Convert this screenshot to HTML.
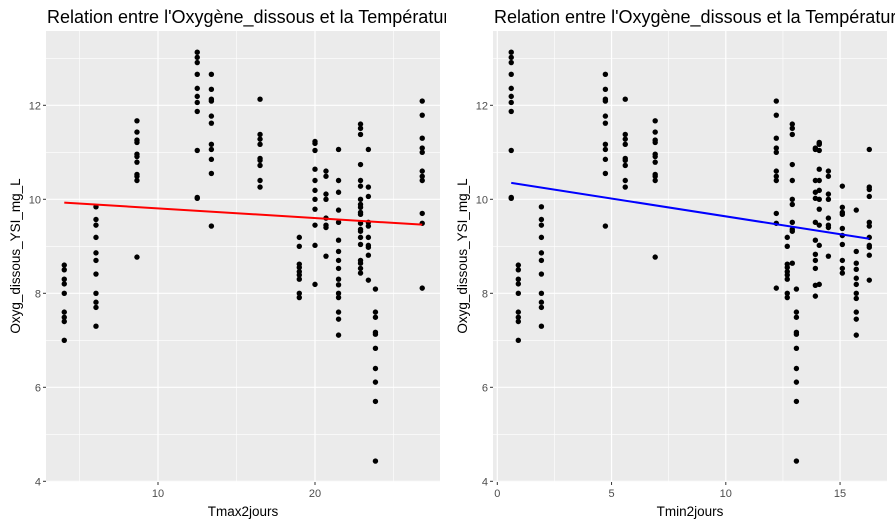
<!DOCTYPE html>
<html><head><meta charset="utf-8"><style>
body{margin:0;background:#fff;}
svg{display:block;font-family:"Liberation Sans",Arial,sans-serif;}
</style></head><body>
<svg id="chart" width="895" height="526" viewBox="0 0 895 526" xmlns="http://www.w3.org/2000/svg"></svg>
<script>
// Left panel data (Tmax2jours)
const leftX = [4.03,6.05,8.66,12.5,13.4,16.5,19.0,20.0,20.7,21.5,22.9,23.4,23.85,26.83];
const leftY = [
 [8.60,8.50,8.30,8.20,8.00,7.60,7.49,7.40,7.00],
 [9.84,9.57,9.45,9.19,8.86,8.70,8.41,8.0,7.81,7.70,7.30],
 [11.67,11.43,11.26,11.21,10.96,10.91,10.79,10.53,10.49,10.40,8.77],
 [13.13,13.02,12.91,12.66,12.36,12.19,12.06,11.87,11.04,10.04,10.02],
 [12.66,12.34,12.13,12.09,11.77,11.62,11.17,11.06,10.85,10.55,9.43],
 [12.13,11.38,11.28,11.17,10.87,10.83,10.72,10.40,10.26],
 [9.19,9.00,8.62,8.55,8.46,8.39,8.30,8.0,7.91],
 [11.23,11.19,11.04,10.64,10.40,10.19,10.0,9.79,9.45,9.02,8.19],
 [10.60,10.49,10.11,10.0,9.60,9.45,9.40,8.79],
 [11.06,10.40,10.15,9.77,9.51,9.13,8.89,8.70,8.53,8.30,8.18,8.0,7.91,7.60,7.45,7.11],
 [11.60,11.51,11.38,10.74,10.40,10.28,10.0,9.89,9.83,9.72,9.68,9.49,9.36,9.32,9.19,9.04,8.70,8.53,8.64,8.43],
 [11.06,10.26,10.06,9.51,9.43,9.19,9.02,8.98,8.81,8.28],
 [8.09,7.60,7.49,7.17,7.13,6.83,6.40,6.11,5.70,4.43],
 [12.09,11.79,11.30,11.09,11.0,10.60,10.49,10.40,9.70,9.49,8.11]
];
const leftLineX = [4.03,26.83];
const leftLineY = [9.93,9.46];
const leftXTicks = [10,20];
const leftXMinor = [5,15,25];

// Right panel data (Tmin2jours)
const rightX = [0.61,0.92,1.93,4.73,5.60,6.91,12.21,12.69,12.91,13.09,13.92,14.09,14.49,15.10,15.71,16.28];
const rightY = [
 [13.13,13.02,12.91,12.66,12.36,12.19,12.06,11.87,11.04,10.04,10.02],
 [8.60,8.50,8.30,8.20,8.00,7.60,7.49,7.40,7.00],
 [9.84,9.57,9.45,9.19,8.86,8.70,8.41,8.0,7.81,7.70,7.30],
 [12.66,12.34,12.13,12.09,11.77,11.62,11.17,11.06,10.85,10.55,9.43],
 [12.13,11.38,11.28,11.17,10.87,10.83,10.72,10.40,10.26],
 [11.67,11.43,11.26,11.21,10.96,10.91,10.79,10.53,10.49,10.40,8.77],
 [12.09,11.79,11.30,11.09,11.0,10.60,10.49,10.40,9.70,9.49,8.11],
 [9.19,9.00,8.62,8.55,8.46,8.39,8.30,8.0,7.91],
 [11.60,11.51,11.38,10.74,10.40,10.0,9.89,9.51,9.36,9.32,8.64],
 [8.09,7.60,7.49,7.17,7.13,6.83,6.40,6.11,5.70,4.43],
 [11.09,11.06,10.40,10.15,10.02,9.51,9.13,8.83,8.70,8.53,8.17,7.94],
 [11.21,11.19,11.17,11.04,10.64,10.40,10.19,10.0,9.79,9.45,9.02,8.19],
 [10.60,10.49,10.11,10.0,9.60,9.45,9.40,8.79],
 [10.28,9.83,9.72,9.68,9.38,9.23,9.04,8.70,8.53,8.43],
 [9.77,8.89,8.64,8.51,8.32,8.19,8.0,7.89,7.60,7.45,7.11],
 [11.06,10.26,10.21,10.06,9.51,9.43,9.19,9.02,8.98,8.81,8.28]
];
const rightLineX = [0.61,16.28];
const rightLineY = [10.35,9.16];
const rightXTicks = [0,5,10,15];
const rightXMinor = [2.5,7.5,12.5];

const yTicks = [4,6,8,10,12];
const yMinor = [5,7,9,11,13];

const NS = "http://www.w3.org/2000/svg";
const svg = document.getElementById('chart');
function mk(tag, attrs, parent){
  const e = document.createElementNS(NS, tag);
  for (const k in attrs) e.setAttribute(k, attrs[k]);
  (parent||svg).appendChild(e);
  return e;
}
const yScale = v => 105.3 + (12 - v) * 47;

function panel(o){
  const g = mk('g', {});
  
  
  const xs = v => o.x0px + (v - o.x0) * o.pxPer;
  const clipId = o.name + '-clip';
  const cp = mk('clipPath', {id: clipId}, g);
  mk('rect', {x: o.left, y: 31, width: o.right - o.left, height: 451}, cp);
  const bg = mk('rect', {x: o.left, y: 31, width: o.right - o.left, height: 451, fill: '#EBEBEB'}, g);
  
  
  yMinor.forEach(v => { mk('line', {x1:o.left, x2:o.right, y1:yScale(v), y2:yScale(v), stroke:'#fff', 'stroke-width':0.6, 'clip-path':'url(#'+clipId+')'}, g); });
  o.xMinor.forEach(v => { mk('line', {x1:xs(v), x2:xs(v), y1:31, y2:482, stroke:'#fff', 'stroke-width':0.6}, g); });
  yTicks.forEach(v => {
    mk('line', {x1:o.left, x2:o.right, y1:yScale(v), y2:yScale(v), stroke:'#fff', 'stroke-width':1.2}, g);
    mk('line', {x1:o.left-3, x2:o.left, y1:yScale(v), y2:yScale(v), stroke:'#333', 'stroke-width':1}, g);
    const t = mk('text', {x:o.left-5, y:yScale(v)+4, 'text-anchor':'end', 'font-size':11, fill:'#4D4D4D'}, g);
    
    
    t.textContent = v;
  });
  o.xTicks.forEach(v => {
    mk('line', {x1:xs(v), x2:xs(v), y1:31, y2:482, stroke:'#fff', 'stroke-width':1.2}, g);
    mk('line', {x1:xs(v), x2:xs(v), y1:482, y2:485, stroke:'#333', 'stroke-width':1}, g);
    const t = mk('text', {x:xs(v), y:497, 'text-anchor':'middle', 'font-size':11, fill:'#4D4D4D'}, g);
    
    
    t.textContent = v;
  });
  const pts = mk('g', {'clip-path':'url(#'+clipId+')'}, g);
  
  
  o.xs.forEach((xv, i) => {
    o.ys[i].forEach(yv => {
      const c = mk('circle', {cx:xs(xv), cy:yScale(yv), r:2.7, fill:'#000'}, pts);
      
      
    });
  });
  const ln = mk('line', {x1:xs(o.lx[0]), y1:yScale(o.ly[0]), x2:xs(o.lx[1]), y2:yScale(o.ly[1]), stroke:o.color, 'stroke-width':2}, g);
  
  
  const tc = mk('clipPath', {id: o.name+'-tclip'}, g);
  mk('rect', {x:o.left-2, y:0, width:o.titleW, height:30}, tc);
  const title = mk('text', {x:o.left+1, y:23, 'font-size':18, fill:'#000', 'clip-path':'url(#'+o.name+'-tclip)'}, g);
  
  
  title.textContent = "Relation entre l'Oxygène_dissous et la Température";
  const xt = mk('text', {x:(o.left+o.right)/2, y:516, 'text-anchor':'middle', 'font-size':13.5, fill:'#000'}, g);
  
  
  xt.textContent = o.xTitle;
  const yt = mk('text', {x:0, y:0, 'text-anchor':'middle', 'font-size':13.5, fill:'#000', transform:'translate('+(o.left-26)+',256) rotate(-90)'}, g);
  
  
  yt.textContent = 'Oxyg_dissous_YSI_mg_L';
}
panel({name:'left', left:46, right:440, x0:10, x0px:158, pxPer:15.7, xs:leftX, ys:leftY, lx:leftLineX, ly:leftLineY, xTicks:leftXTicks, xMinor:leftXMinor, color:'#FF0000', xTitle:'Tmax2jours', titleW:402});
panel({name:'right', left:493, right:887, x0:0, x0px:497.3, pxPer:22.85, xs:rightX, ys:rightY, lx:rightLineX, ly:rightLineY, xTicks:rightXTicks, xMinor:rightXMinor, color:'#0000FF', xTitle:'Tmin2jours', titleW:410});
</script>
</body></html>
